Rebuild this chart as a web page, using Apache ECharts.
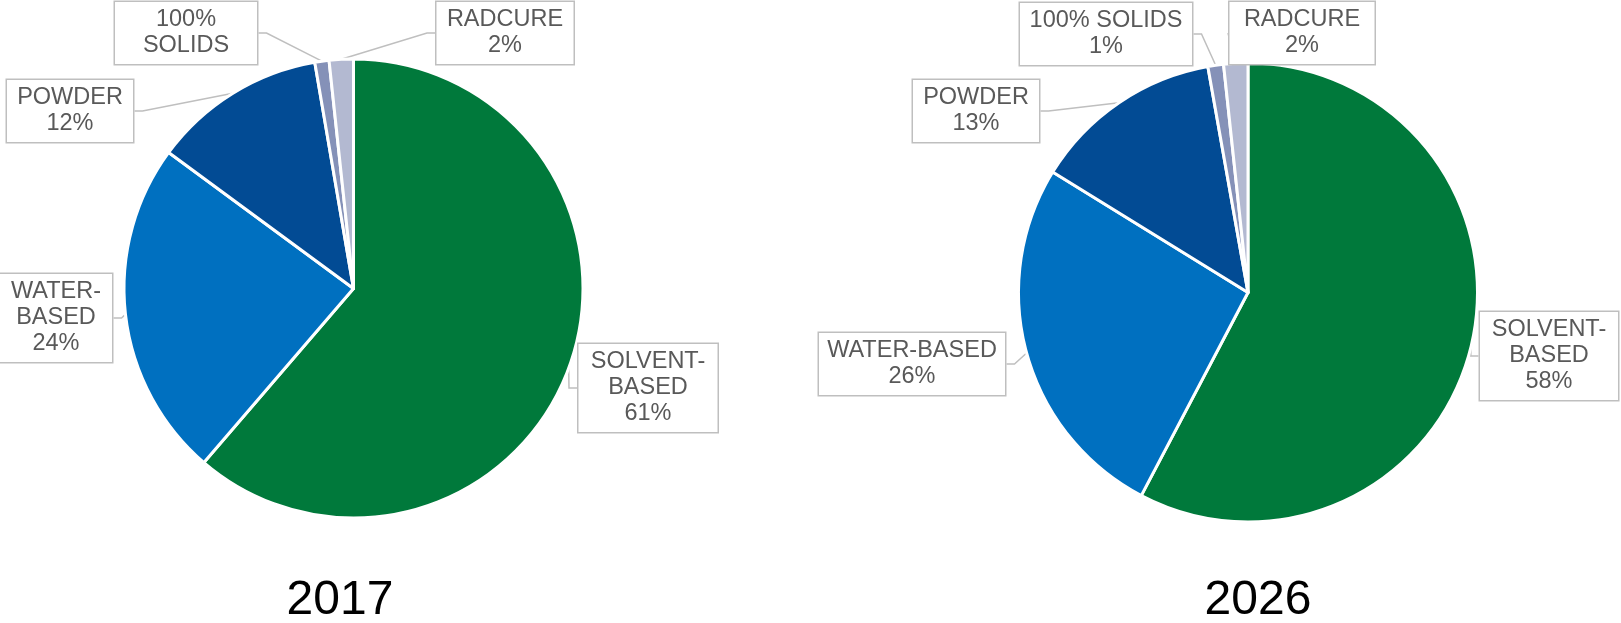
<!DOCTYPE html>
<html>
<head>
<meta charset="utf-8">
<script src="https://cdn.jsdelivr.net/npm/echarts@6/dist/echarts.min.js"></script>
<style>
html,body{margin:0;padding:0;background:#fff;}
#chart{width:1621px;height:623px;}
</style>
</head>
<body>
<div id="chart"></div>
<script>
// ---- data ----
var categories = ['SOLVENT-BASED', 'WATER-BASED', 'POWDER', '100% SOLIDS', 'RADCURE'];
var labels2017 = ['SOLVENT-\nBASED', 'WATER-\nBASED', 'POWDER', '100%\nSOLIDS', 'RADCURE'];
var labels2026 = ['SOLVENT-\nBASED', 'WATER-BASED', 'POWDER', '100% SOLIDS', 'RADCURE'];
var showPct2017 = [true, true, true, false, true];
var showPct2026 = [true, true, true, true, true];
var values2017 = [61.3, 23.8, 12.2, 1.0, 1.7];
var values2026 = [57.7, 26.1, 13.4, 1.1, 1.7];
var years = ['2017', '2026'];

// ---- styles ----
var colors = ['#00793B', '#0070C0', '#024B94', '#8591B8', '#B3B9D1'];
var FONT = '"Liberation Sans", Arial, sans-serif';
// label box centres and widths (layout only)
var boxes2017 = [
  {cx: 648, cy: 388, w: 139},
  {cx: 56, cy: 318, w: 112},
  {cx: 70, cy: 111, w: 126},
  {cx: 186, cy: 33, w: 142},
  {cx: 505, cy: 33, w: 137}
];
var boxes2026 = [
  {cx: 1549, cy: 356, w: 138},
  {cx: 912, cy: 364, w: 186},
  {cx: 976, cy: 111, w: 126},
  {cx: 1106, cy: 34, w: 172},
  {cx: 1302, cy: 33, w: 145}
];

function buildData(vals, labs, pcts, boxes) {
  return vals.map(function (v, i) {
    return {
      value: v,
      name: categories[i],
      labelText: labs[i],
      showPct: pcts[i],
      label: { width: boxes[i].w - 12 },
      itemStyle: { color: colors[i] }
    };
  });
}

function makeSeries(vals, labs, pcts, boxes, center) {
  return {
    type: 'pie',
    center: center,
    radius: 229.5,
    startAngle: 90,
    clockwise: true,
    percentPrecision: 0,
    avoidLabelOverlap: false,
    animation: false,
    data: buildData(vals, labs, pcts, boxes),
    itemStyle: { borderColor: '#ffffff', borderWidth: 3 },
    label: {
      show: true,
      position: 'outside',
      formatter: function (p) {
        return p.data.showPct ? (p.data.labelText + '\n' + p.percent + '%') : p.data.labelText;
      },
      color: '#595959',
      fontFamily: FONT,
      fontSize: 23.5,
      lineHeight: 26,
      align: 'center',
      backgroundColor: '#ffffff',
      borderColor: '#BFBFBF',
      borderWidth: 1.5,
      padding: [5, 6, 5, 6]
    },
    labelLine: {
      show: true,
      length: 8,
      length2: 8,
      lineStyle: { color: '#BFBFBF', width: 1.5 }
    },
    labelLayout: function (params) {
      var b = boxes[params.dataIndex];
      return {
        x: b.cx,
        y: b.cy,
        align: 'center',
        verticalAlign: 'middle'
      };
    }
  };
}

var chart = echarts.init(document.getElementById('chart'), null, { renderer: 'canvas' });
chart.setOption({
  backgroundColor: '#ffffff',
  animation: false,
  graphic: [
    { type: 'text', x: 340, y: 601, style: { text: years[0], font: '48px ' + FONT, fill: '#000000', align: 'center', verticalAlign: 'middle' } },
    { type: 'text', x: 1258, y: 601, style: { text: years[1], font: '48px ' + FONT, fill: '#000000', align: 'center', verticalAlign: 'middle' } }
  ],
  series: [
    makeSeries(values2017, labels2017, showPct2017, boxes2017, [353.5, 288.5]),
    makeSeries(values2026, labels2026, showPct2026, boxes2026, [1248, 292.5])
  ]
});
</script>
</body>
</html>
